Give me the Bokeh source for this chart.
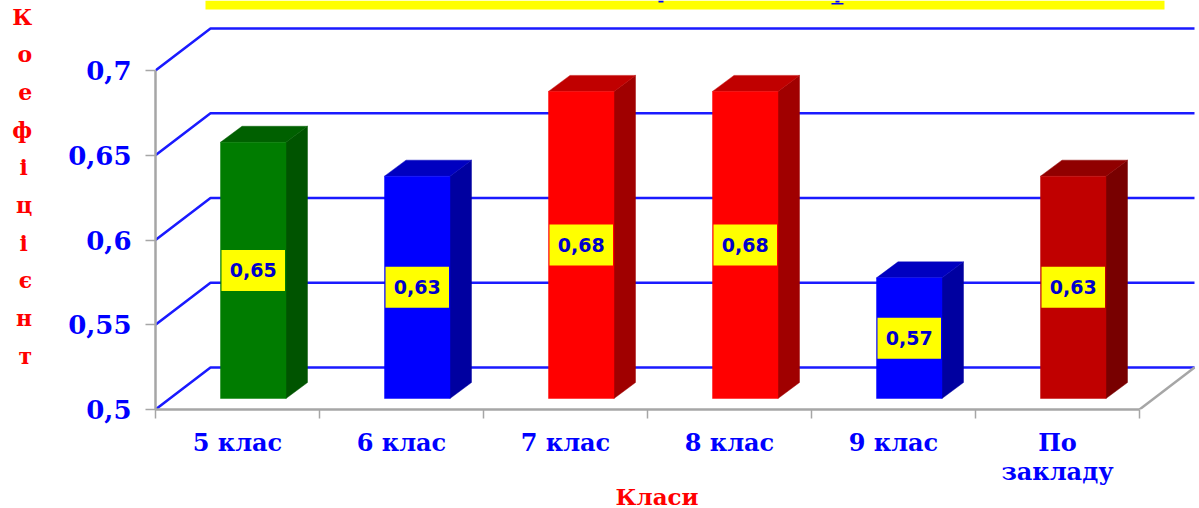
from bokeh.plotting import figure
from bokeh.models import Range1d, FixedTicker, ColumnDataSource, Title
from bokeh.core.properties import value
from bokeh.embed import file_html
from bokeh.resources import INLINE

# ---- data ----
categories = ["5 клас", "6 клас", "7 клас", "8 клас", "9 клас", "По\nзакладу"]
values = [0.65, 0.63, 0.68, 0.68, 0.57, 0.63]
y_ticks = [0.5, 0.55, 0.6, 0.65, 0.7]
y_tick_labels = ["0,5", "0,55", "0,6", "0,65", "0,7"]
value_labels = ["0,65", "0,63", "0,68", "0,68", "0,57", "0,63"]
front_colors = ["#007C00", "#0000FF", "#FF0000", "#FF0000", "#0000FF", "#C00000"]
side_colors = ["#005400", "#0000A0", "#A00000", "#A00000", "#0000A0", "#780000"]
top_colors = ["#006000", "#0000C0", "#C00000", "#C00000", "#0000C0", "#900000"]
x_title = "Класи"
y_title = "К\nо\nе\nф\nі\u2009\nц\nі\u2009\nє\nн\nт\n"

# ---- geometry (1 x unit = 164 px, 1 y unit = 1695 px) ----
PXX, PXY = 164.0, 1695.0
LEFT, BASE = 155, 409
WALL_DX, WALL_DY = 55 / PXX, 42 / PXY
BAR_L, BAR_R = 65 / PXX, 130.5 / PXX
BAR_DX, BAR_DY = 21.5 / PXX, 16 / PXY
LIFT_B, LIFT_T = 11 / PXY, 13 / PXY
y0 = y_ticks[0]
n = len(categories)

p = figure(width=1199, height=508, output_backend="svg", toolbar_location=None,
           x_range=Range1d(0, (1199 - LEFT) / PXX), y_range=Range1d(y0, y0 + BASE / PXY),
           min_border_left=LEFT, min_border_right=0, min_border_top=0, min_border_bottom=508 - BASE,
           background_fill_color="white", border_fill_color="white", outline_line_color=None)
p.grid.visible = False


def sx(px):
    return (px - LEFT) / PXX


def sy(py):
    return y0 + (BASE - py) / PXY


# title band, with the feet of the title's cut-off letters
p.quad(left=[sx(205)], right=[sx(1164)], bottom=[sy(9)], top=[sy(0)], fill_color="#FFFF00", line_color=None)
p.quad(left=[sx(831), sx(835), sx(658)], right=[sx(843), sx(839), sx(663)],
       bottom=[sy(4), sy(2), sy(2)], top=[sy(2.5), sy(0), sy(0)], fill_color="#0000FF", line_color=None)

# wall grid lines
xe = float(n)
p.multi_line(xs=[[0, WALL_DX, xe + WALL_DX] for _ in y_ticks],
             ys=[[t, t + WALL_DY, t + WALL_DY] for t in y_ticks],
             line_color="#1A1AFF", line_width=2.5)
# floor right edge
p.line([xe, xe + WALL_DX], [y0, y0 + WALL_DY], line_color="#A6A6A6", line_width=2.5)

# bars
for i, v in enumerate(values):
    l, r = i + BAR_L, i + BAR_R
    b, t = y0 + LIFT_B, v + LIFT_T
    p.patch([r, r + BAR_DX, r + BAR_DX, r], [b, b + BAR_DY, t + BAR_DY, t],
            fill_color=side_colors[i], line_color=side_colors[i], line_alpha=0.45, line_width=1)
    p.patch([l, l + BAR_DX, r + BAR_DX, r], [t, t + BAR_DY, t + BAR_DY, t],
            fill_color=top_colors[i], line_color=top_colors[i], line_alpha=0.45, line_width=1)
    p.quad(left=[l], right=[r], bottom=[b], top=[t], fill_color=front_colors[i],
           line_color=front_colors[i], line_alpha=0.45, line_width=1)

# value boxes
src = ColumnDataSource(dict(
    x=[i + (BAR_L + BAR_R) / 2 for i in range(n)],
    y=[(y0 + LIFT_B + v + LIFT_T) / 2 for v in values],
    txt=value_labels))
p.rect(x="x", y="y", width=BAR_R - BAR_L - 2 / PXX, height=41 / PXY, source=src,
       fill_color="#FFFF00", line_color=None)
p.text(x="x", y="y", text="txt", source=src, text_align="center", text_baseline="middle",
       text_color="#0000CC", text_font=value("DejaVu Sans"), text_font_style="bold",
       text_font_size="19px")

# axes
ya = p.yaxis[0]
ya.ticker = FixedTicker(ticks=y_ticks)
ya.major_label_overrides = dict(zip(y_ticks, y_tick_labels))
ya.bounds = (y_ticks[0], y_ticks[-1])
ya.axis_line_color = "#A6A6A6"
ya.axis_line_width = 2.5
ya.major_tick_line_color = "#A6A6A6"
ya.major_tick_line_width = 1.5
ya.major_tick_out = 10
ya.major_tick_in = 0
ya.major_label_standoff = 14
ya.major_label_text_color = "#0000FF"
ya.major_label_text_font = "DejaVu Serif"
ya.major_label_text_font_style = "bold"
ya.major_label_text_font_size = "26px"
ya.axis_label = y_title
ya.axis_label_orientation = "horizontal"
ya.axis_label_standoff = 33
ya.axis_label_text_color = "#FF0000"
ya.axis_label_text_font = "DejaVu Serif"
ya.axis_label_text_font_style = "bold"
ya.axis_label_text_font_size = "22px"
ya.axis_label_text_line_height = 1.45

xa = p.xaxis[0]
mids = [i + 0.5 for i in range(n)]
xa.ticker = FixedTicker(ticks=mids, minor_ticks=list(range(n + 1)))
xa.major_label_overrides = dict(zip(mids, categories))
xa.bounds = (0, n)
xa.axis_line_color = "#A6A6A6"
xa.axis_line_width = 2.5
xa.major_tick_line_color = None
xa.major_tick_out = 9
xa.major_tick_in = 0
xa.minor_tick_line_color = "#A6A6A6"
xa.minor_tick_line_width = 1.5
xa.minor_tick_out = 9
xa.minor_tick_in = 0
xa.major_label_standoff = 9
xa.major_label_text_color = "#0000FF"
xa.major_label_text_font = "DejaVu Serif"
xa.major_label_text_font_style = "bold"
xa.major_label_text_font_size = "24px"
xa.major_label_text_line_height = 1.0

# x axis title: a panel title, offset from the frame's left edge
p.add_layout(Title(text=x_title, align="left", offset=659 - LEFT - 44, standoff=-12,
                   vertical_align="top",
                   text_color="#FF0000", text_font="DejaVu Serif", text_font_style="bold",
                   text_font_size="23px"), "below")

open("out.html", "w").write(file_html(p, INLINE))
